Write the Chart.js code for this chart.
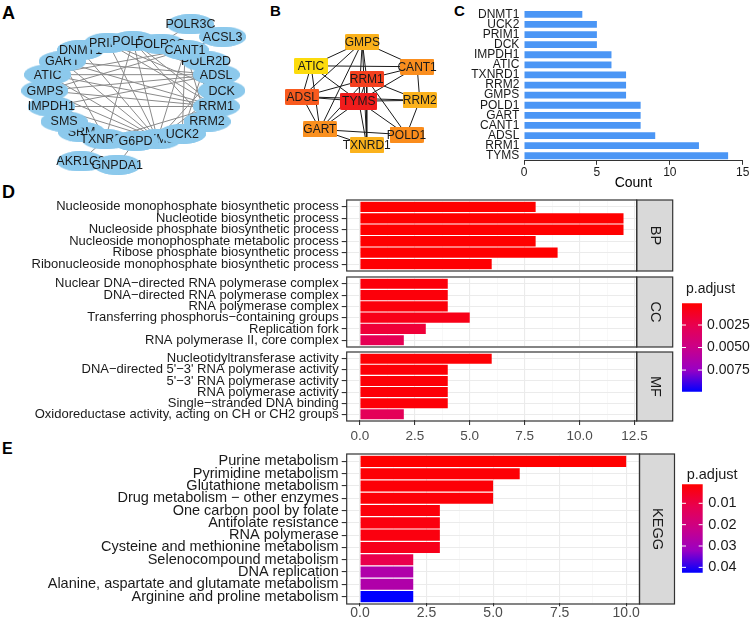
<!DOCTYPE html>
<html>
<head>
<meta charset="utf-8">
<title>Hub genes and enrichment</title>
<script src="https://cdn.jsdelivr.net/npm/chart.js@4.4.1/dist/chart.umd.min.js"></script>
<style>
  body { margin: 0; background: #fff; }
  #page { position: relative; width: 753px; height: 620px; overflow: hidden; }
  .box { position: absolute; }
  .tag { position: absolute; font-family: "Liberation Sans", Arial, sans-serif; font-weight: bold; line-height: 1; color: #000; }
</style>
</head>
<body>
<div id="page">
  <div class="tag" style="left:2px;top:4px;font-size:18px">A</div>
  <div class="tag" style="left:270px;top:3px;font-size:15px">B</div>
  <div class="tag" style="left:454px;top:3px;font-size:15px">C</div>
  <div class="tag" style="left:2px;top:183px;font-size:18px">D</div>
  <div class="tag" style="left:2px;top:441px;font-size:16px">E</div>
</div>
<script>
// ---- panel A: PPI network (node layout) ----
const aNodes = ['SRM', 'SMS', 'IMPDH1', 'GMPS', 'ATIC', 'GART', 'DNMT1', 'PRIM1', 'POLD1', 'POLR2D', 'POLR2G', 'CANT1',
  'ADSL', 'DCK', 'RRM1', 'RRM2', 'TYMS', 'UCK2', 'TXNRD1', 'G6PD', 'AKR1C3', 'GNPDA1', 'POLR3C', 'ACSL3'];
const aX = [77, 58, 44, 37, 40, 56, 76, 106, 133, 213, 163, 190, 224, 230, 224, 214, 160, 187, 103, 136, 76, 116, 196, 231];
const aY = [137, 125, 108, 90, 72, 57, 44, 36, 34, 57, 37, 44, 72, 90, 108, 125, 145, 139, 145, 147, 170, 174, 15, 29];
const aEdges = [
  ['TYMS', 'RRM1'], ['TYMS', 'ADSL'], ['TYMS', 'CANT1'], ['TYMS', 'GART'], ['TYMS', 'POLD1'], ['TYMS', 'GMPS'], ['TYMS', 'RRM2'],
  ['TYMS', 'TXNRD1'], ['TYMS', 'ATIC'], ['TYMS', 'IMPDH1'], ['TYMS', 'DCK'], ['TYMS', 'PRIM1'], ['TYMS', 'UCK2'], ['TYMS', 'DNMT1'],
  ['RRM1', 'ADSL'], ['RRM1', 'CANT1'], ['RRM1', 'GART'], ['RRM1', 'POLD1'], ['RRM1', 'GMPS'], ['RRM1', 'RRM2'], ['RRM1', 'TXNRD1'],
  ['RRM1', 'ATIC'], ['RRM1', 'IMPDH1'], ['RRM1', 'DCK'], ['RRM1', 'PRIM1'],
  ['ADSL', 'GART'], ['ADSL', 'GMPS'], ['ADSL', 'ATIC'], ['ADSL', 'IMPDH1'], ['ADSL', 'CANT1'], ['ADSL', 'POLD1'], ['ADSL', 'RRM2'],
  ['GART', 'GMPS'], ['GART', 'ATIC'], ['GART', 'IMPDH1'], ['GART', 'TXNRD1'], ['GART', 'DNMT1'],
  ['CANT1', 'GMPS'], ['CANT1', 'ATIC'], ['CANT1', 'RRM2'], ['CANT1', 'UCK2'], ['CANT1', 'DCK'],
  ['POLD1', 'PRIM1'], ['POLD1', 'RRM2'], ['POLD1', 'TXNRD1'], ['POLD1', 'DNMT1'], ['POLD1', 'POLR2D'],
  ['GMPS', 'IMPDH1'], ['GMPS', 'TXNRD1'], ['RRM2', 'TXNRD1'], ['RRM2', 'UCK2'], ['ATIC', 'IMPDH1'],
  ['DCK', 'UCK2'], ['DCK', 'PRIM1'], ['UCK2', 'POLR2D'], ['PRIM1', 'DNMT1'],
  ['TXNRD1', 'AKR1C3'], ['G6PD', 'GNPDA1'], ['POLR3C', 'POLR2G'], ['POLR2G', 'POLR2D'], ['ACSL3', 'CANT1'], ['SMS', 'SRM']
];

// ---- panel B: top-10 hub genes ----
const bNodes = ['GMPS', 'ATIC', 'CANT1', 'RRM1', 'ADSL', 'RRM2', 'GART', 'POLD1', 'TXNRD1', 'TYMS'];
const bX = [363, 305, 425, 368, 295, 428, 315, 413, 368, 359];
const bY = [35, 62, 63, 77, 97, 101, 134, 140, 152, 102];
const bColors = ['#FBB21C', '#FCDB0C', '#FA8E1E', '#F4401E', '#F85A1E', '#FBB21C', '#FA901F', '#FA8C1C', '#FBB21C', '#F01C1C'];
const bEdges = [
  ['GMPS', 'ATIC'], ['GMPS', 'CANT1'], ['GMPS', 'RRM1'], ['GMPS', 'TYMS'], ['GMPS', 'ADSL'], ['GMPS', 'GART'], ['GMPS', 'TXNRD1'],
  ['ATIC', 'CANT1'], ['ATIC', 'TYMS'], ['ATIC', 'ADSL'], ['ATIC', 'GART'],
  ['ADSL', 'RRM1'], ['ADSL', 'TYMS'], ['ADSL', 'GART'], ['ADSL', 'RRM2'],
  ['RRM1', 'CANT1'], ['RRM1', 'TYMS'], ['RRM1', 'GART'], ['RRM1', 'POLD1'], ['RRM1', 'TXNRD1'], ['RRM1', 'RRM2'],
  ['TYMS', 'RRM2'], ['TYMS', 'GART'], ['TYMS', 'POLD1'], ['TYMS', 'TXNRD1'], ['TYMS', 'CANT1'],
  ['CANT1', 'RRM2'], ['RRM2', 'POLD1'], ['GART', 'POLD1'], ['GART', 'TXNRD1']
];

// ---- panel C: node degree ----
const cGenes = ['DNMT1', 'UCK2', 'PRIM1', 'DCK', 'IMPDH1', 'ATIC', 'TXNRD1', 'RRM2', 'GMPS', 'POLD1', 'GART', 'CANT1', 'ADSL', 'RRM1', 'TYMS'];
const cCounts = [4, 5, 5, 5, 6, 6, 7, 7, 7, 8, 8, 8, 9, 12, 14];
const cTicks = [0, 5, 10, 15];

// ---- panel D: GO enrichment ----
const bpTerms = ['Nucleoside monophosphate biosynthetic process', 'Nucleotide biosynthetic process',
  'Nucleoside phosphate biosynthetic process', 'Nucleoside monophosphate metabolic process',
  'Ribose phosphate biosynthetic process', 'Ribonucleoside monophosphate biosynthetic process'];
const bpCounts = [8, 12, 12, 8, 9, 6];
const bpPadj = [0.0001, 0.0001, 0.0001, 0.00012, 0.0001, 0.00015];
const ccTerms = ['Nuclear DNA\u2212directed RNA polymerase complex', 'DNA\u2212directed RNA polymerase complex',
  'RNA polymerase complex', 'Transferring phosphorus\u2212containing groups', 'Replication fork', 'RNA polymerase II, core complex'];
const ccCounts = [4, 4, 4, 5, 3, 2];
const ccPadj = [0.0004, 0.0004, 0.0004, 0.0008, 0.0018, 0.0027];
const mfTerms = ['Nucleotidyltransferase activity', 'DNA\u2212directed 5\'\u22123\' RNA polymerase activity',
  '5\'\u22123\' RNA polymerase activity', 'RNA polymerase activity', 'Single\u2212stranded DNA binding',
  'Oxidoreductase activity, acting on CH or CH2 groups'];
const mfCounts = [6, 4, 4, 4, 4, 2];
const mfPadj = [0.0002, 0.0003, 0.0003, 0.0003, 0.0003, 0.0029];
const goLimits = [0.00009, 0.0099];
const goLegendTicks = [0.0025, 0.005, 0.0075];
const goMajor = [0, 2.5, 5, 7.5, 10, 12.5];
const goMinor = [1.25, 3.75, 6.25, 8.75, 11.25];

// ---- panel E: KEGG enrichment ----
const keggTerms = ['Purine metabolism', 'Pyrimidine metabolism', 'Glutathione metabolism', 'Drug metabolism \u2212 other enzymes',
  'One carbon pool by folate', 'Antifolate resistance', 'RNA polymerase', 'Cysteine and methionine metabolism',
  'Selenocompound metabolism', 'DNA replication', 'Alanine, aspartate and glutamate metabolism', 'Arginine and proline metabolism'];
const keggCounts = [10, 6, 5, 5, 3, 3, 3, 3, 2, 2, 2, 2];
const keggPadj = [0.0011, 0.0018, 0.002, 0.002, 0.0025, 0.003, 0.003, 0.0045, 0.011, 0.0275, 0.0275, 0.0425];
const keggLimits = [0.0011, 0.0425];
const keggLegendTicks = [0.01, 0.02, 0.03, 0.04];
const keggMajor = [0, 2.5, 5, 7.5, 10];
const keggMinor = [1.25, 3.75, 6.25, 8.75];

const FONT = '"Liberation Sans", Arial, sans-serif';
Chart.defaults.font.family = FONT;
Chart.defaults.animation = false;
Chart.defaults.plugins.legend.display = false;
Chart.defaults.plugins.tooltip.enabled = false;

// red -> blue gradient as ggplot builds it (Lab interpolation, sampled)
const RED_BLUE = [[255, 0, 0], [232, 0, 80], [202, 0, 137], [154, 0, 195], [0, 0, 255]];
function padjColor(p, lims) {
  let t = (p - lims[0]) / (lims[1] - lims[0]);
  t = Math.max(0, Math.min(1, t));
  const f = t * (RED_BLUE.length - 1);
  const i = Math.min(Math.floor(f), RED_BLUE.length - 2);
  const r = f - i, a = RED_BLUE[i], b = RED_BLUE[i + 1];
  return 'rgb(' + a.map((v, k) => Math.round(v + (b[k] - v) * r)).join(',') + ')';
}

function addCanvas(parent, left, top, w, h) {
  const d = document.createElement('div');
  d.className = 'box';
  d.style.cssText = `left:${left}px;top:${top}px;width:${w}px;height:${h}px`;
  const c = document.createElement('canvas');
  c.width = w; c.height = h;
  d.appendChild(c);
  parent.appendChild(d);
  return c;
}

// stop the axes from asking for extra room for their end labels
function noPad(s) {
  s.paddingTop = 0; s.paddingBottom = 0; s.paddingLeft = 0; s.paddingRight = 0;
}

// ---- network panels ----
function shapeCanvas(w, h, fill, ellipse) {
  const c = document.createElement('canvas');
  c.width = w; c.height = h;
  const g = c.getContext('2d');
  g.fillStyle = fill;
  g.beginPath();
  if (ellipse) g.ellipse(w / 2, h / 2, w / 2, h / 2, 0, 0, Math.PI * 2);
  else g.roundRect(0, 0, w, h, 2);
  g.fill();
  return c;
}

const nodeLabels = {
  id: 'nodeLabels',
  afterDatasetsDraw(chart, args, o) {
    const ctx = chart.ctx;
    const meta = chart.getDatasetMeta(chart.data.datasets.length - 1);
    meta.data.forEach((pt, i) => {
      pt.draw(ctx);
      ctx.save();
      ctx.font = o.font;
      ctx.fillStyle = '#1A1A1A';
      ctx.textAlign = 'center';
      ctx.textBaseline = 'middle';
      ctx.fillText(o.names[i], pt.x, pt.y + 0.5);
      ctx.restore();
    });
  }
};

function networkChart(canvas, left, top, names, xs, ys, edges, styles, edgeColor, font) {
  const pos = n => { const i = names.indexOf(n); return { x: xs[i], y: ys[i] }; };
  const datasets = edges.map(e => ({
    data: [pos(e[0]), pos(e[1])], showLine: true, borderColor: edgeColor, borderWidth: 1,
    pointRadius: 0, clip: false, order: 2
  }));
  datasets.push({
    data: xs.map((x, i) => ({ x: x, y: ys[i] })),
    pointStyle: c => styles[c.dataIndex], pointRadius: 10, clip: false, order: 1
  });
  return new Chart(canvas, {
    type: 'scatter',
    data: { datasets: datasets },
    options: {
      responsive: false,
      layout: { padding: 0 },
      plugins: { nodeLabels: { names: names, font: font } },
      scales: {
        x: { type: 'linear', display: false, min: left, max: left + canvas.width },
        y: { type: 'linear', display: false, min: top, max: top + canvas.height, reverse: true }
      }
    },
    plugins: [nodeLabels]
  });
}

const page = document.getElementById('page');

const blueEllipse = shapeCanvas(47, 20, '#8CC9EC', true);
networkChart(addCanvas(page, 0, 0, 262, 190), 0, 0, aNodes, aX, aY, aEdges,
  aNodes.map(() => blueEllipse), '#8A8A8A', '12.5px ' + FONT);
networkChart(addCanvas(page, 262, 0, 190, 190), 262, 0, bNodes, bX, bY, bEdges,
  bColors.map((c, i) => bNodes[i] === 'TYMS' ? shapeCanvas(37, 17, c, false) : shapeCanvas(34, 16, c, false)),
  '#1A1A1A', '12px ' + FONT);

// ---- panel C ----
const cCanvas = addCanvas(page, 440, 0, 313, 195);
new Chart(cCanvas, {
  type: 'bar',
  data: { labels: cGenes, datasets: [{ data: cCounts, backgroundColor: '#4B96F5', barPercentage: 0.67, categoryPercentage: 1 }] },
  options: {
    indexAxis: 'y',
    responsive: false,
    layout: { padding: { left: 0, right: 313 - (742.7 - 440), top: 9.3, bottom: 3.2 } },
    scales: {
      x: {
        type: 'linear', min: 0, max: 15,
        afterBuildTicks: s => { s.ticks = cTicks.map(v => ({ value: v })); },
        afterFit: s => { s.height = 31; noPad(s); },
        border: { display: true, color: '#333333', width: 1 },
        grid: { display: true, drawOnChartArea: false, drawTicks: true, tickLength: 4, color: '#333333' },
        ticks: { padding: 1, font: { size: 12 }, color: '#1A1A1A', autoSkip: false, maxRotation: 0 },
        title: { display: true, text: 'Count', font: { size: 14 }, color: '#000', padding: { top: 0, bottom: 0 } }
      },
      y: {
        afterFit: s => { s.width = 84; noPad(s); },
        border: { display: false },
        grid: { display: false, drawTicks: false },
        ticks: { padding: 4.7, font: { size: 12 }, color: '#1A1A1A', autoSkip: false }
      }
    }
  }
});

// ---- faceted enrichment bars (D and E) ----
const facetFrame = {
  id: 'facetFrame',
  afterDraw(chart, args, o) {
    const a = chart.chartArea, ctx = chart.ctx;
    const top = a.top - o.ext, bottom = a.bottom + o.ext;
    ctx.save();
    ctx.fillStyle = '#D9D9D9';
    ctx.fillRect(a.right, top, o.stripW, bottom - top);
    ctx.strokeStyle = '#333333';
    ctx.lineWidth = 1.2;
    ctx.strokeRect(a.right, top, o.stripW, bottom - top);
    ctx.strokeRect(a.left, top, a.right - a.left, bottom - top);
    ctx.translate(a.right + o.stripW / 2, (top + bottom) / 2);
    ctx.rotate(Math.PI / 2);
    ctx.fillStyle = '#1A1A1A';
    ctx.font = '14.5px ' + FONT;
    ctx.textAlign = 'center';
    ctx.textBaseline = 'middle';
    ctx.fillText(o.label, 0, 0);
    ctx.restore();
  }
};

function facetChart(canvas, g) {
  const n = g.terms.length;
  const unit = (g.y1 - g.y0) / (n - 1 + 1.2);
  const ext = 0.1 * unit;
  const major = v => g.major.includes(v);
  const ticks = g.major.concat(g.minor).sort((p, q) => p - q);
  return new Chart(canvas, {
    type: 'bar',
    data: {
      labels: g.terms,
      datasets: [{
        data: g.counts,
        backgroundColor: g.padj.map(p => padjColor(p, g.lims)),
        barPercentage: 0.9,
        categoryPercentage: 1
      }]
    },
    options: {
      indexAxis: 'y',
      responsive: false,
      layout: { padding: { left: 0, top: g.y0 + ext, right: canvas.width - g.x1, bottom: canvas.height - (g.y1 - ext) - g.xh } },
      plugins: { facetFrame: { ext: ext, stripW: g.stripW, label: g.strip } },
      scales: {
        x: {
          type: 'linear', min: g.xMin, max: g.xMax,
          afterBuildTicks: s => { s.ticks = ticks.map(v => ({ value: v })); },
          afterFit: s => { s.height = g.xh; noPad(s); },
          border: { display: false },
          grid: {
            color: c => (c.tick && major(c.tick.value)) ? '#EBEBEB' : '#F4F4F4',
            lineWidth: c => (c.tick && major(c.tick.value)) ? 1.1 : 0.6,
            drawTicks: g.xh > 0, tickLength: g.xTickLen,
            tickColor: c => (c.tick && major(c.tick.value)) ? '#333333' : 'rgba(0,0,0,0)'
          },
          ticks: {
            display: g.xh > 0, autoSkip: false, maxRotation: 0, padding: g.xPad,
            font: { size: g.tickSize }, color: '#4D4D4D',
            callback: v => major(v) ? v.toFixed(1) : ''
          }
        },
        y: {
          afterFit: s => { s.width = g.x0; noPad(s); },
          border: { display: false },
          grid: { color: '#EBEBEB', lineWidth: 1.1, offset: false, tickLength: 5, tickColor: '#333333' },
          ticks: { autoSkip: false, padding: 3, font: { size: g.labelSize }, color: '#1A1A1A' }
        }
      }
    },
    plugins: [facetFrame]
  });
}

const colorbarMarks = {
  id: 'colorbarMarks',
  afterDatasetsDraw(chart, args, o) {
    const a = chart.chartArea, ctx = chart.ctx, s = chart.scales.y;
    ctx.save();
    ctx.strokeStyle = '#FFFFFF';
    ctx.lineWidth = 1;
    s.ticks.forEach(t => {
      const y = s.getPixelForValue(t.value);
      ctx.beginPath();
      ctx.moveTo(a.left, y); ctx.lineTo(a.left + o.mark, y);
      ctx.moveTo(a.right - o.mark, y); ctx.lineTo(a.right, y);
      ctx.stroke();
    });
    ctx.font = o.font + 'px ' + FONT;
    ctx.fillStyle = '#1A1A1A';
    ctx.textBaseline = 'middle';
    ctx.fillText(o.title, a.left + o.dx, o.ty);
    ctx.restore();
  }
};

function colorbarChart(canvas, g) {
  const fill = c => {
    const a = c.chart.chartArea;
    if (!a) return 'rgb(255,0,0)';
    const grad = c.chart.ctx.createLinearGradient(0, a.top, 0, a.bottom);
    RED_BLUE.forEach((col, i) => grad.addColorStop(i / (RED_BLUE.length - 1), 'rgb(' + col.join(',') + ')'));
    return grad;
  };
  return new Chart(canvas, {
    type: 'bar',
    data: { labels: [''], datasets: [{ data: [[g.lims[0], g.lims[1]]], backgroundColor: fill, barPercentage: 1, categoryPercentage: 1 }] },
    options: {
      responsive: false,
      layout: { padding: { left: g.barX, top: g.barTop, bottom: canvas.height - g.barBottom, right: 0 } },
      plugins: { colorbarMarks: { title: 'p.adjust', mark: g.mark, dx: g.dx, ty: g.ty, font: g.font } },
      scales: {
        x: { display: false },
        y: {
          position: 'right', reverse: true, min: g.lims[0], max: g.lims[1],
          afterBuildTicks: s => { s.ticks = g.ticks.map(v => ({ value: v })); },
          afterFit: s => { s.width = canvas.width - g.barX - g.barW; noPad(s); },
          grid: { display: false, drawTicks: false },
          border: { display: false },
          ticks: { padding: g.pad, font: { size: g.font }, color: '#1A1A1A', callback: v => v.toFixed(g.digits) }
        }
      }
    },
    plugins: [colorbarMarks]
  });
}

const goFacet = { x0: 346.7, x1: 636.7, stripW: 36, xMin: -0.6, xMax: 12.6, major: goMajor, minor: goMinor,
  lims: goLimits, xTickLen: 5, xPad: 3, labelSize: 13, tickSize: 13.5 };
facetChart(addCanvas(page, 0, 195, 674, 80), Object.assign({}, goFacet,
  { terms: bpTerms, counts: bpCounts, padj: bpPadj, strip: 'BP', y0: 5, y1: 76, xh: 0 }));
facetChart(addCanvas(page, 0, 273, 674, 78), Object.assign({}, goFacet,
  { terms: ccTerms, counts: ccCounts, padj: ccPadj, strip: 'CC', y0: 4, y1: 74, xh: 0 }));
facetChart(addCanvas(page, 0, 348, 674, 100), Object.assign({}, goFacet,
  { terms: mfTerms, counts: mfCounts, padj: mfPadj, strip: 'MF', y0: 4, y1: 73, xh: 22 }));
colorbarChart(addCanvas(page, 676, 280, 77, 120), { lims: goLimits, ticks: goLegendTicks, digits: 4,
  barX: 6, barW: 20, barTop: 23.3, barBottom: 111.7, mark: 4, dx: 4, ty: 9, pad: 5, font: 14 });

facetChart(addCanvas(page, 0, 448, 680, 172), { terms: keggTerms, counts: keggCounts, padj: keggPadj, lims: keggLimits,
  strip: 'KEGG', x0: 346.7, x1: 639.5, stripW: 35, y0: 6, y1: 156, xh: 16, xMin: -0.5, xMax: 10.5,
  major: keggMajor, minor: keggMinor, xTickLen: 3.5, xPad: -2, labelSize: 14.5, tickSize: 14 });
colorbarChart(addCanvas(page, 676, 460, 77, 125), { lims: keggLimits, ticks: keggLegendTicks, digits: 2,
  barX: 6, barW: 20.7, barTop: 24.3, barBottom: 112.7, mark: 4, dx: 4.7, ty: 15, pad: 5.6, font: 14.5 });
</script>
</body>
</html>
